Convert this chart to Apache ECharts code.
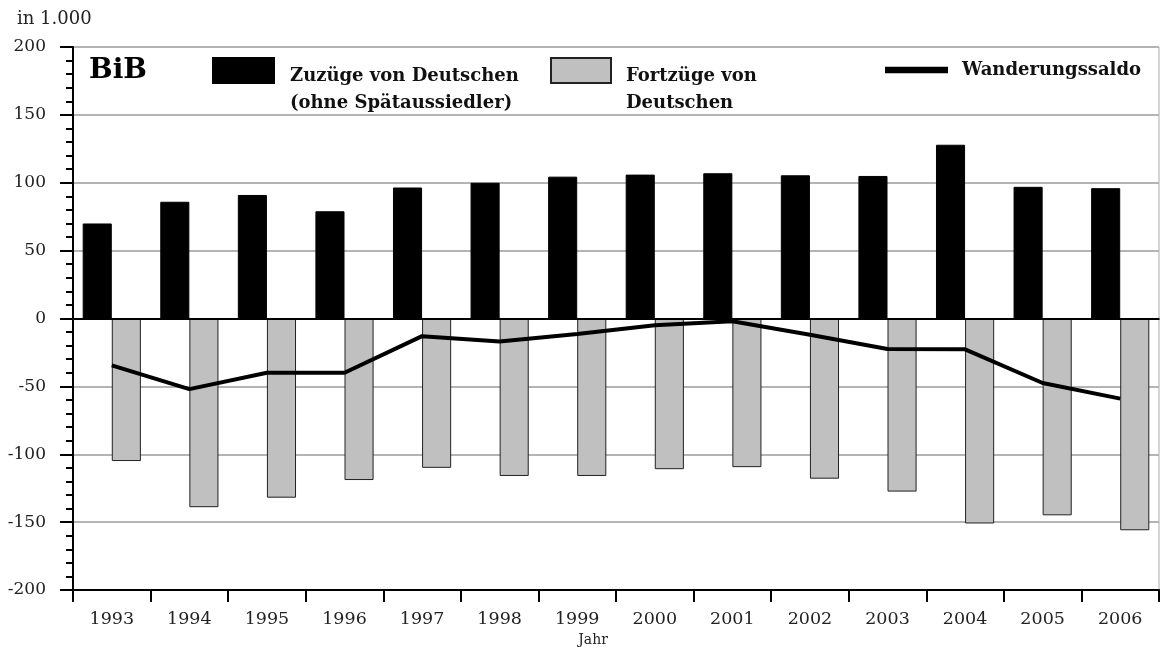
<!DOCTYPE html>
<html>
<head>
<meta charset="utf-8">
<script src="https://cdn.jsdelivr.net/npm/echarts@6/dist/echarts.min.js"></script>
<style>
  html, body { margin: 0; padding: 0; background: #fff; }
  #chart { width: 1160px; height: 648px; }
</style>
</head>
<body>
<div id="chart"></div>
<script>
const years = ['1993', '1994', '1995', '1996', '1997', '1998', '1999', '2000', '2001', '2002', '2003', '2004', '2005', '2006']
const zuzuege = [70, 86, 91, 79, 96.5, 100, 104.5, 106, 107, 105.5, 105, 128, 97, 96]
const fortzuege = [-105, -139, -132, -119, -110, -116, -116, -111, -109.5, -118, -127.5, -151, -145, -156]
const saldo = [-34.5, -52, -40, -40, -13, -17, -11.5, -5, -2, -12, -22.5, -22.7, -47.5, -59]

const serif = '"DejaVu Serif", "Liberation Serif", serif'
const nameIn = 'Zuzüge von Deutschen (ohne Spätaussiedler)'
const nameOut = 'Fortzüge von Deutschen'
const nameSaldo = 'Wanderungssaldo'

const chart = echarts.init(document.getElementById('chart'))

// text of a legend item is centred on its icon, so an empty first
// rich line pushes the two text lines down under the icon top
function legendFor(name, left, top, icon, label, itemWidth, padLeft) {
  return {
    data: [{ name: name, icon: icon }],
    left: left,
    top: top,
    itemWidth: itemWidth,
    itemHeight: 25,
    itemGap: 0,
    padding: 0,
    selectedMode: false,
    formatter: () => label,
    textStyle: {
      fontFamily: serif,
      fontSize: 18,
      fontWeight: 'bold',
      color: '#111',
      padding: [0, 0, 0, padLeft],
      rich: {
        s: { lineHeight: 38, fontSize: 10 },
        a: { fontFamily: serif, fontSize: 18, fontWeight: 'bold', color: '#111', lineHeight: 27 }
      }
    }
  }
}

chart.setOption({
  animation: false,
  graphic: [
    {
      type: 'text',
      left: 17,
      top: 10,
      style: { text: 'in 1.000', font: '18px ' + serif, fill: '#222' }
    },
    {
      type: 'text',
      left: 89,
      top: 57,
      style: { text: 'BiB', font: 'bold 28px ' + serif, fill: '#000' }
    }
  ],
  legend: [
    legendFor(nameIn, 212, 38.5, 'rect', '{s| }\n{a|Zuzüge von Deutschen}\n{a|(ohne Spätaussiedler)}', 61, 11),
    legendFor(nameOut, 550, 38.5, 'rect', '{s| }\n{a|Fortzüge von}\n{a|Deutschen}', 60, 10),
    legendFor(nameSaldo, 885, 61, 'path://M0,0 L10,0 L10,1 L0,1 Z', 'Wanderungssaldo', 63, 9)
  ],
  grid: {
    left: 73,
    right: 1,
    top: 47,
    bottom: 58,
    outerBoundsMode: 'none',
    containLabel: false,
    show: true,
    borderColor: '#aaa',
    borderWidth: 1
  },
  xAxis: [
    {
      type: 'category',
      data: years,
      boundaryGap: true,
      name: 'Jahr',
      nameLocation: 'middle',
      nameGap: 39,
      nameTextStyle: { fontFamily: serif, fontSize: 14, color: '#222', padding: [0, 46, 0, 0] },
      axisLine: { onZero: false, lineStyle: { color: '#000', width: 2 } },
      axisTick: { show: true, length: 12, lineStyle: { color: '#000', width: 2 } },
      axisLabel: { margin: 20, fontFamily: serif, fontSize: 17.5, color: '#222' },
      splitLine: { show: false }
    },
    {
      type: 'category',
      data: years,
      position: 'top',
      axisLine: { lineStyle: { color: '#444', width: 2 } },
      axisTick: { show: false },
      axisLabel: { show: false }
    }
  ],
  yAxis: {
    type: 'value',
    min: -200,
    max: 200,
    interval: 50,
    axisLine: { show: true, lineStyle: { color: '#000', width: 2 } },
    axisTick: { show: true, length: 13, lineStyle: { color: '#000', width: 2 } },
    minorTick: { show: true, splitNumber: 5, length: 7, lineStyle: { color: '#000', width: 2 } },
    axisLabel: { margin: 27, fontFamily: serif, fontSize: 17, color: '#222' },
    splitLine: { show: true, lineStyle: { color: '#b4b4b4', width: 2 } }
  },
  series: [
    {
      name: nameIn,
      type: 'bar',
      data: zuzuege,
      barGap: '0%',
      barCategoryGap: '25%',
      itemStyle: { color: '#000', borderColor: '#000', borderWidth: 1 },
      markLine: {
        silent: true,
        symbol: 'none',
        label: { show: false },
        lineStyle: { color: '#000', width: 2, type: 'solid' },
        data: [{ yAxis: 0 }]
      }
    },
    {
      name: nameOut,
      type: 'bar',
      data: fortzuege,
      itemStyle: { color: '#c0c0c0', borderColor: '#222', borderWidth: 1 }
    },
    {
      name: nameSaldo,
      type: 'line',
      data: saldo,
      showSymbol: false,
      symbol: 'none',
      z: 5,
      itemStyle: { color: '#000' },
      lineStyle: { color: '#000', width: 4 }
    }
  ]
})
</script>
</body>
</html>
